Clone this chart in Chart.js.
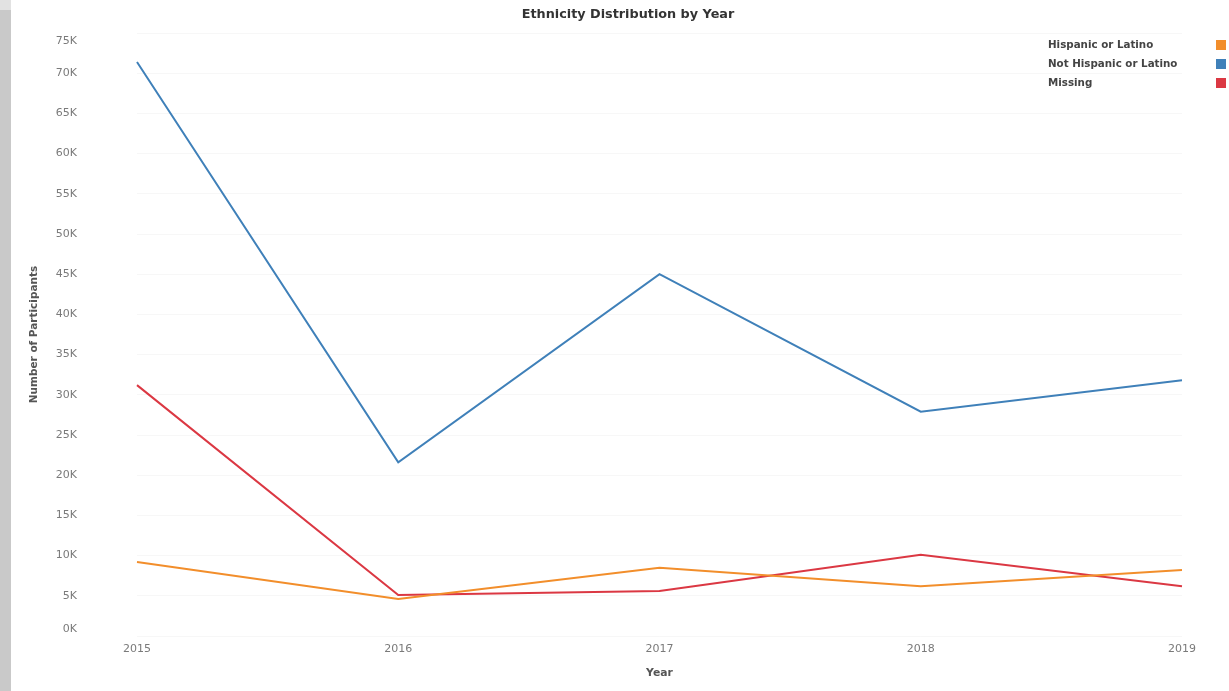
<!DOCTYPE html>
<html>
<head>
<meta charset="utf-8">
<title>Ethnicity Distribution by Year</title>
<script src="https://cdn.jsdelivr.net/npm/chart.js@4"></script>
<style>
  html, body { margin: 0; padding: 0; background: #fff; }
  #wrap { position: relative; width: 1229px; height: 691px; }
  #side { position: absolute; left: 0; top: 0; width: 11px; height: 691px; background: #c9c9c9; }
  #side-top { position: absolute; left: 0; top: 0; width: 11px; height: 10px; background: #e2e2e2; }
</style>
</head>
<body>
<div id="wrap">
  <canvas id="ethChart" width="1229" height="691"></canvas>
  <div id="side"></div>
  <div id="side-top"></div>
</div>
<script>
const years = ['2015', '2016', '2017', '2018', '2019'];
const hispanic = [9200, 4600, 8500, 6200, 8200];
const notHispanic = [71400, 21600, 45000, 27900, 31800];
const missing = [31200, 5100, 5600, 10100, 6200];
const seriesNames = ['Hispanic or Latino', 'Not Hispanic or Latino', 'Missing'];
const seriesColors = ['#f28e2b', '#3f80b9', '#db3843'];
const yMin = 0;
const yMax = 75000;
const chartTitle = 'Ethnicity Distribution by Year';

const FONT = "'DejaVu Sans', 'Noto Sans', sans-serif";
const TICK_SIZE = 11;
const kLabel = v => (v / 1000) + 'K';

// sheet title, centred over the whole view rather than the plot
const sheetTitle = {
  id: 'sheetTitle',
  afterDraw(chart) {
    const ctx = chart.ctx;
    ctx.save();
    ctx.font = 'bold 12.8px ' + FONT;
    ctx.fillStyle = '#333';
    ctx.textAlign = 'center';
    ctx.textBaseline = 'middle';
    ctx.fillText(chartTitle, 628, 15);
    ctx.restore();
  }
};

// legend on the top right: text left, colour swatch far right
const sideLegend = {
  id: 'sideLegend',
  afterDraw(chart) {
    const ctx = chart.ctx;
    ctx.save();
    ctx.font = 'bold 10.3px ' + FONT;
    ctx.textBaseline = 'middle';
    ctx.textAlign = 'left';
    chart.data.datasets.forEach((ds, i) => {
      const y = 45 + i * 19;
      ctx.fillStyle = '#444';
      ctx.fillText(ds.label, 1048, y);
      ctx.fillStyle = ds.borderColor;
      ctx.fillRect(1216, y - 5, 10, 10);
    });
    ctx.restore();
  }
};

// the end labels of the y axis are nudged inside the plot so they don't hang over the edge
const edgeTicks = {
  id: 'edgeTicks',
  afterDraw(chart) {
    const y = chart.scales.y;
    const ctx = chart.ctx;
    ctx.save();
    ctx.font = TICK_SIZE + 'px ' + FONT;
    ctx.fillStyle = '#7a7a7a';
    ctx.textAlign = 'right';
    ctx.textBaseline = 'middle';
    ctx.fillText(kLabel(yMax), 77, y.getPixelForValue(yMax) + 8);
    ctx.fillText(kLabel(yMin), 77, y.getPixelForValue(yMin) - 7);
    ctx.restore();
  }
};

new Chart(document.getElementById('ethChart'), {
  type: 'line',
  data: {
    labels: years,
    datasets: [
      { label: seriesNames[0], data: hispanic, borderColor: seriesColors[0] },
      { label: seriesNames[1], data: notHispanic, borderColor: seriesColors[1] },
      { label: seriesNames[2], data: missing, borderColor: seriesColors[2] }
    ]
  },
  options: {
    responsive: false,
    animation: false,
    layout: { padding: { left: 0, right: 47, top: 33, bottom: 0 } },
    elements: {
      line: { borderWidth: 2, tension: 0 },
      point: { radius: 0 }
    },
    plugins: {
      legend: { display: false },
      tooltip: { enabled: false },
      title: { display: false }
    },
    scales: {
      x: {
        offset: false,
        grid: { display: false, drawTicks: false },
        border: { display: false },
        ticks: { color: '#7a7a7a', font: { family: FONT, size: TICK_SIZE }, padding: 7, maxRotation: 0 },
        title: {
          display: true,
          text: 'Year',
          color: '#555',
          font: { family: FONT, size: 10.8, weight: 'bold' },
          padding: { top: 0, bottom: 11 }
        },
        afterFit(s) { s.height = 55; }
      },
      y: {
        min: yMin,
        max: yMax,
        grid: { color: 'rgba(0,0,0,0.03)', drawTicks: false },
        border: { display: false },
        ticks: {
          stepSize: 5000,
          color: '#7a7a7a',
          font: { family: FONT, size: TICK_SIZE },
          padding: 60,
          callback: v => (v === yMin || v === yMax) ? '' : kLabel(v)
        },
        title: {
          display: true,
          text: 'Number of Participants',
          color: '#555',
          font: { family: FONT, size: 10.5, weight: 'bold' },
          padding: { top: 28, bottom: 0 }
        },
        afterFit(s) {
          s.width = 137;
          // the big tick padding is horizontal only; keep the plot full height
          s.paddingTop = 0;
          s.paddingBottom = 0;
        }
      }
    }
  },
  plugins: [sheetTitle, sideLegend, edgeTicks]
});
</script>
</body>
</html>
